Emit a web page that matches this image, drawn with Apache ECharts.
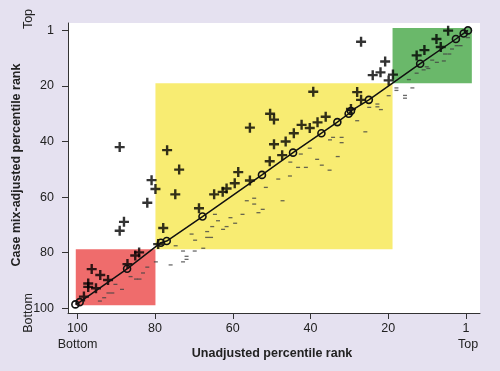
<!DOCTYPE html>
<html><head><meta charset="utf-8">
<script src="https://cdn.jsdelivr.net/npm/echarts@6/dist/echarts.min.js"></script>
<style>html,body{margin:0;padding:0;background:#e5e1f0;}#c{width:500px;height:371px;}</style>
</head><body><div id="c"></div>
<script>
// Axis tick values (value 0 is labelled "1")
const tickValues = [0, 20, 40, 60, 80, 100];
const tickLabels = ['1', '20', '40', '60', '80', '100'];

// Shaded bands: [xFrom, yFrom, xTo, yTo]
const bandRed = [100.4, 78.8, 79.9, 98.9];
const bandYellow = [79.9, 19.0, 18.9, 78.8];
const bandGreen = [18.9, 19.0, -1.5, -0.9];

// Hospitals on the diagonal (circles), [unadjusted, adjusted]
const onLine = [[100.5,98.6],[99.4,97.8],[87.2,85.8],[78.5,76.4],[77.0,75.8],[67.8,67.0],[52.5,52.0],[44.5,44.0],[37.2,37.0],[33.1,33.0],[30.2,30.0],[29.6,29.0],[25.0,25.0],[11.8,12.0],[2.6,3.1],[0.6,1.1],[-0.5,0.0]];

// Hospitals that moved down (plus markers)
const plusPts = [[89.1,42.0],[76.9,43.1],[73.8,50.1],[80.9,53.9],[79.9,57.1],[74.8,59.0],[82.0,62.0],[88.0,68.9],[89.1,72.1],[77.9,71.1],
[96.3,85.9],[94.1,88.0],[97.2,91.1],[97.2,92.3],[95.2,92.8],[92.1,89.8],[98.3,95.8],[87.1,84.1],[85.1,81.0],[84.1,79.9],
[68.7,64.0],[64.8,59.0],[62.6,58.1],[61.6,56.9],[59.5,55.0],[58.6,51.0],[55.6,54.0],[55.6,35.0],[50.4,30.0],[49.4,32.1],
[49.4,41.0],[50.5,47.1],[46.4,40.0],[47.3,44.9],[44.3,37.0],[42.3,34.0],[40.2,35.1],[38.2,33.1],[36.1,31.1],[39.3,22.1],
[28.0,22.2],[27.0,25.0],[29.6,28.3],[27.0,4.1],[20.8,11.2],[24.0,16.1],[22.0,15.1],[18.8,15.9],[19.9,18.0],[12.7,9.0],
[10.7,7.1],[7.6,3.1],[6.5,6.0],[4.6,0.1],[79.2,76.9]];

// Hospitals that moved up (minus markers)
const minusPts = [[-0.5,2.6],[2.4,5.5],[1.4,5.5],[3.6,6.7],[5.4,8.5],[4.3,8.5],[8.7,10.7],[7.5,11.5],[5.7,11.0],[10.1,13.1],
[9.7,13.7],[10.9,14.2],[12.7,15.4],[14.7,17.7],[17.9,20.7],[17.9,21.6],[13.8,20.7],[15.7,23.4],[15.7,24.4],[19.9,23.5],
[22.8,26.5],[22.8,27.5],[21.9,28.5],[24.9,27.7],[28.0,32.5],[25.9,36.5],[34.2,38.5],[32.0,38.5],[35.0,39.4],[32.0,40.4],
[40.2,42.4],[42.5,44.5],[33.0,45.4],[38.3,46.4],[45.2,47.4],[37.1,48.5],[35.1,50.3],[43.2,49.3],[41.2,49.3],[45.3,52.4],
[48.3,53.5],[51.5,56.5],[54.5,60.4],[56.4,61.3],[54.5,62.5],[47.2,61.3],[52.3,64.4],[53.4,65.6],[57.5,66.2],[64.6,66.2],
[63.8,68.5],[60.6,67.4],[59.4,69.4],[61.6,70.6],[62.5,71.6],[65.3,70.6],[66.6,72.4],[66.6,74.5],[65.6,74.5],[70.6,73.3],
[69.7,75.5],[67.6,78.4],[74.7,77.5],[72.8,79.4],[69.8,79.4],[71.9,81.3],[71.9,82.4],[72.8,83.3],[79.8,83.3],[76.0,84.4],
[82.0,85.2],[83.1,87.3],[86.3,88.6],[84.9,89.5],[84.0,89.5],[90.2,91.4],[88.5,93.2],[92.0,94.5],[91.0,94.5],[93.1,96.2],[94.2,97.4]];

const xTitle = 'Unadjusted percentile rank';
const yTitle = 'Case mix-adjusted percentile rank';

const FONT = '"Liberation Sans", Arial, sans-serif';
const TXT = '#222';
function band(b, color) {
  return [{xAxis: b[0], yAxis: b[1], itemStyle: {color: color}}, {xAxis: b[2], yAxis: b[3]}];
}
const labelFmt = v => { const i = tickValues.indexOf(v); return i >= 0 ? tickLabels[i] : ''; };
const axisCommon = {
  type: 'value', inverse: true,
  splitLine: {show: false},
  axisLine: {show: true, onZero: false, lineStyle: {color: '#333', width: 1}},
  axisTick: {show: true, length: 6, customValues: tickValues, lineStyle: {color: '#333'}},
};
const chart = echarts.init(document.getElementById('c'), null, {renderer: 'canvas'});
chart.setOption({
  backgroundColor: '#e5e1f0',
  animation: false,
  grid: {left: 68, right: 20, top: 23, bottom: 58, show: true, backgroundColor: '#ffffff', borderWidth: 0},
  xAxis: Object.assign({}, axisCommon, {min: -3.6, max: 102.4,
    axisLabel: {customValues: tickValues, formatter: labelFmt, margin: 9, fontFamily: FONT, fontSize: 12.5, color: TXT}}),
  yAxis: Object.assign({}, axisCommon, {min: -2.66, max: 101.7,
    axisLabel: {customValues: tickValues, formatter: labelFmt, margin: 14, fontFamily: FONT, fontSize: 12.5, color: TXT}}),
  series: [
    {type: 'scatter', data: [], silent: true, z: 1,
     markArea: {silent: true, data: [band(bandRed, '#ef6c6c'), band(bandYellow, '#f8ec72'), band(bandGreen, '#6ab86a')]}},
    {type: 'scatter', data: minusPts, symbol: 'rect', symbolSize: [4, 1.3], itemStyle: {color: '#444'}, z: 2, silent: true},
    {type: 'scatter', data: plusPts, symbol: 'path://M3.8,0h2.4v3.8h3.8v2.4h-3.8v3.8h-2.4v-3.8h-3.8v-2.4h3.8z', symbolSize: 10,
     itemStyle: {color: '#000'}, z: 3, silent: true},
    {type: 'line', data: onLine, symbol: 'circle', symbolSize: 7, showAllSymbol: true,
     lineStyle: {color: '#111', width: 1.5},
     itemStyle: {color: 'rgba(0,0,0,0)', borderColor: '#111', borderWidth: 1.6}, z: 4, silent: true}
  ],
  graphic: [
    {type: 'text', x: 17, y: 165, rotation: Math.PI / 2, style: {text: yTitle, font: 'bold 12.5px ' + FONT, fill: TXT, align: 'center', verticalAlign: 'middle'}},
    {type: 'text', x: 29, y: 19, rotation: Math.PI / 2, style: {text: 'Top', font: '12.5px ' + FONT, fill: TXT, align: 'center', verticalAlign: 'middle'}},
    {type: 'text', x: 29, y: 313, rotation: Math.PI / 2, style: {text: 'Bottom', font: '12.5px ' + FONT, fill: TXT, align: 'center', verticalAlign: 'middle'}},
    {type: 'text', x: 77.5, y: 345, style: {text: 'Bottom', font: '12.5px ' + FONT, fill: TXT, align: 'center', verticalAlign: 'middle'}},
    {type: 'text', x: 468, y: 345, style: {text: 'Top', font: '12.5px ' + FONT, fill: TXT, align: 'center', verticalAlign: 'middle'}},
    {type: 'text', x: 272, y: 354, style: {text: xTitle, font: 'bold 12.5px ' + FONT, fill: TXT, align: 'center', verticalAlign: 'middle'}}
  ]
});
</script></body></html>
